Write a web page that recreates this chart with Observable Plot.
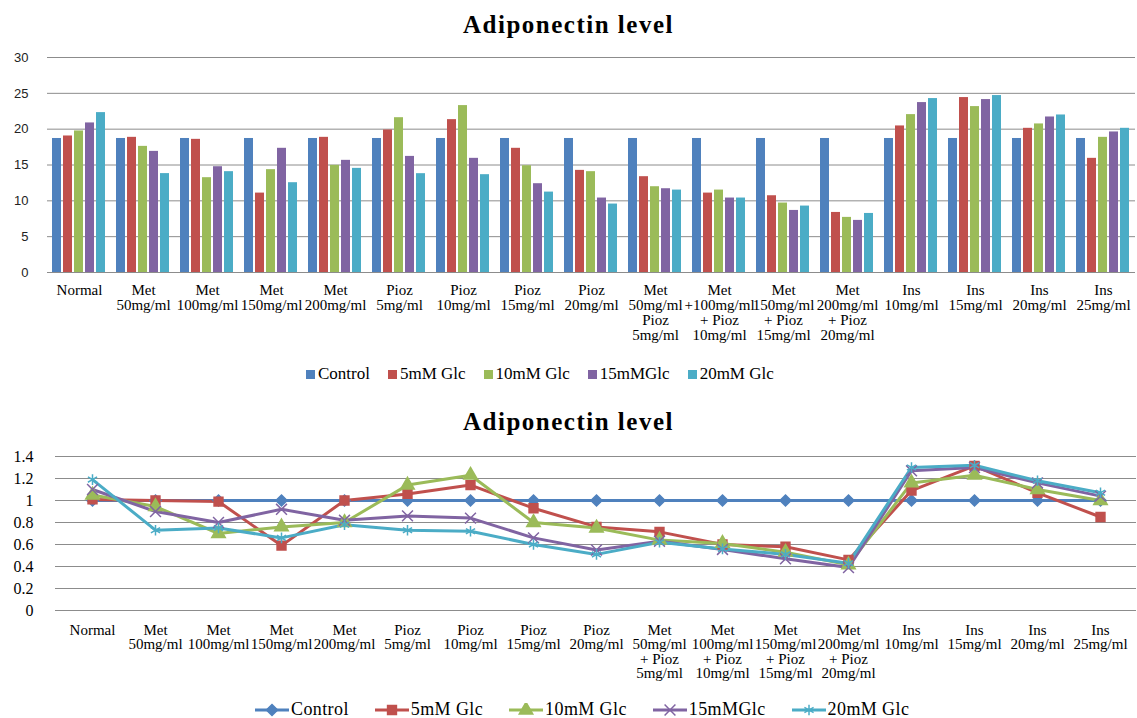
<!DOCTYPE html>
<html>
<head>
<meta charset="utf-8">
<script src="https://cdn.jsdelivr.net/npm/d3@7"></script>
<script src="https://cdn.jsdelivr.net/npm/@observablehq/plot@0.6"></script>
<style>
  body { margin: 0; background: #fff; }
  #page { position: relative; width: 1137px; height: 718px; overflow: hidden;
          font-family: "Liberation Serif", "Times New Roman", serif; color: #000; }
  .title { position: absolute; left: 0; width: 1137px; text-align: center; font-weight: bold;
           font-size: 25px; line-height: 30px; letter-spacing: 1.5px; }
  .chart { position: absolute; left: 0; }
  .legend { position: absolute; display: flex; align-items: center; white-space: nowrap; }
  .legend .item { display: flex; align-items: center; }
  .legend .sw { display: inline-block; width: 9px; height: 9px; margin-right: 3px; }
</style>
</head>
<body>
<div id="page">
  <div class="title" style="top:10px">Adiponectin level</div>
  <div class="chart" id="bars" style="top:45px"></div>
  <div class="legend" id="barLegend" style="top:364px;left:306px;height:20px;line-height:20px;font-size:17px;gap:18px"></div>
  <div class="title" style="top:407px">Adiponectin level</div>
  <div class="chart" id="lines" style="top:440px"></div>
  <div class="legend" id="lineLegend" style="top:701px;left:255px;height:17px;line-height:17px;font-size:18px;letter-spacing:0.4px;gap:26px"></div>
</div>
<script>
// Treatment groups (axis labels of each panel)
const barLabels = [
  "Normal", "Met\n50mg/ml", "Met\n100mg/ml", "Met\n150mg/ml", "Met\n200mg/ml",
  "Pioz\n5mg/ml", "Pioz\n10mg/ml", "Pioz\n15mg/ml", "Pioz\n20mg/ml",
  "Met\n50mg/ml\nPioz\n5mg/ml", "Met\n+100mg/ml\n+ Pioz\n10mg/ml",
  "Met\n150mg/ml\n+ Pioz\n15mg/ml", "Met\n200mg/ml\n+ Pioz\n20mg/ml",
  "Ins\n10mg/ml", "Ins\n15mg/ml", "Ins\n20mg/ml", "Ins\n25mg/ml"
];
const lineLabels = [
  "Normal", "Met\n50mg/ml", "Met\n100mg/ml", "Met\n150mg/ml", "Met\n200mg/ml",
  "Pioz\n5mg/ml", "Pioz\n10mg/ml", "Pioz\n15mg/ml", "Pioz\n20mg/ml",
  "Met\n50mg/ml\n+ Pioz\n5mg/ml", "Met\n100mg/ml\n+ Pioz\n10mg/ml",
  "Met\n150mg/ml\n+ Pioz\n15mg/ml", "Met\n200mg/ml\n+ Pioz\n20mg/ml",
  "Ins\n10mg/ml", "Ins\n15mg/ml", "Ins\n20mg/ml", "Ins\n25mg/ml"
];

const seriesNames = ["Control", "5mM Glc", "10mM Glc", "15mMGlc", "20mM Glc"];
const seriesColors = ["#4F81BD", "#C0504D", "#9BBB59", "#8064A2", "#4BACC6"];
const seriesSymbols = ["diamond2", "square", "triangle", "times", "asterisk"];

// Adiponectin level per group
const controlLevel = [18.7, 18.7, 18.7, 18.7, 18.7, 18.7, 18.7, 18.7, 18.7, 18.7, 18.7, 18.7, 18.7, 18.7, 18.7, 18.7, 18.7];
const glc5Level  = [19.05, 18.86, 18.58, 11.08, 18.86, 19.89, 21.33, 17.33, 14.25, 13.37, 11.08, 10.71, 8.38, 20.45, 24.41, 20.12, 15.93];
const glc10Level = [19.75, 17.6, 13.23, 14.35, 14.95, 21.6, 23.29, 14.9, 14.07, 11.97, 11.5, 9.69, 7.69, 22.03, 23.15, 20.73, 18.86];
const glc15Level = [20.87, 16.9, 14.76, 17.33, 15.65, 16.2, 15.93, 12.39, 10.39, 11.69, 10.39, 8.66, 7.27, 23.71, 24.13, 21.7, 19.61];
const glc20Level = [22.31, 13.8, 14.07, 12.53, 14.53, 13.79, 13.65, 11.22, 9.55, 11.5, 10.39, 9.27, 8.24, 24.27, 24.69, 21.98, 20.12];

// Level relative to control
const controlRatio = [1, 1, 1, 1, 1, 1, 1, 1, 1, 1, 1, 1, 1, 1, 1, 1, 1];
const glc5Ratio  = [1.01, 1.0, 0.99, 0.59, 1.0, 1.06, 1.14, 0.93, 0.76, 0.715, 0.6, 0.58, 0.46, 1.09, 1.315, 1.07, 0.85];
const glc10Ratio = [1.05, 0.945, 0.7, 0.76, 0.8, 1.14, 1.23, 0.8, 0.75, 0.64, 0.61, 0.53, 0.415, 1.16, 1.23, 1.1, 1.0];
const glc15Ratio = [1.1, 0.9, 0.8, 0.92, 0.82, 0.86, 0.84, 0.66, 0.55, 0.63, 0.555, 0.47, 0.39, 1.27, 1.3, 1.16, 1.04];
const glc20Ratio = [1.19, 0.73, 0.75, 0.66, 0.78, 0.73, 0.72, 0.6, 0.51, 0.62, 0.56, 0.51, 0.43, 1.3, 1.32, 1.18, 1.07];

const levelSeries = [controlLevel, glc5Level, glc10Level, glc15Level, glc20Level];
const ratioSeries = [controlRatio, glc5Ratio, glc10Ratio, glc15Ratio, glc20Ratio];

const barRows = [];
barLabels.forEach((cat, i) => seriesNames.forEach((s, j) =>
  barRows.push({cat, series: s, value: levelSeries[j][i]})));

const lineRows = [];
seriesNames.forEach((s, j) => lineLabels.forEach((cat, i) =>
  lineRows.push({cat, series: s, value: ratioSeries[j][i]})));

const gridColor = "#8c8c8c";
const serif = "Liberation Serif, Times New Roman, serif";

// Grouped bar chart
const barChart = Plot.plot({
  width: 1137, height: 300,
  marginTop: 12, marginBottom: 73, marginLeft: 45, marginRight: 1,
  style: {background: "transparent"},
  fx: {domain: barLabels, padding: 0},
  x: {domain: seriesNames, paddingInner: 0.15, paddingOuter: 0.3, axis: null},
  y: {domain: [0, 30]},
  color: {domain: seriesNames, range: seriesColors},
  marks: [
    Plot.ruleY([0, 5, 10, 15, 20, 25, 30], {stroke: gridColor, strokeWidth: 1}),
    Plot.barY(barRows, {fx: "cat", x: "series", y: "value", fill: "series"}),
    Plot.axisY({ticks: [0, 5, 10, 15, 20, 25, 30], tickSize: 0, tickPadding: 19, label: null,
      fontFamily: "Liberation Sans, Arial, sans-serif", fontSize: 13, fill: "#222"}),
    Plot.axisFx({anchor: "bottom", tickSize: 0, tickPadding: 12, label: null,
      fontFamily: serif, fontSize: 15, lineHeight: 1, fill: "#000"})
  ]
});
document.getElementById("bars").append(barChart);

// Relative level line chart
const lineChart = Plot.plot({
  width: 1137, height: 250,
  marginTop: 16, marginBottom: 80, marginLeft: 55, marginRight: 1,
  style: {background: "transparent"},
  x: {type: "point", domain: lineLabels, padding: 0.5},
  y: {domain: [0, 1.4]},
  color: {domain: seriesNames, range: seriesColors},
  symbol: {domain: seriesNames, range: seriesSymbols},
  marks: [
    Plot.ruleY([0, 0.2, 0.4, 0.6, 0.8, 1, 1.2, 1.4], {stroke: gridColor, strokeWidth: 1}),
    Plot.line(lineRows, {x: "cat", y: "value", z: "series", stroke: "series", strokeWidth: 3}),
    Plot.dot(lineRows, {x: "cat", y: "value", symbol: "series", fill: "series", stroke: "series",
      strokeWidth: 1.5, r: 5}),
    Plot.axisY({ticks: [0, 0.2, 0.4, 0.6, 0.8, 1, 1.2, 1.4], tickFormat: d => String(+d.toFixed(1)),
      tickSize: 0, tickPadding: 22, label: null,
      fontFamily: serif, fontSize: 16, fill: "#000"}),
    Plot.axisX({tickSize: 0, tickPadding: 14, label: null,
      fontFamily: serif, fontSize: 15, lineHeight: 0.97, fill: "#000"})
  ]
});
document.getElementById("lines").append(lineChart);

// Legends
const barLegend = document.getElementById("barLegend");
seriesNames.forEach((s, j) => {
  const item = document.createElement("span");
  item.className = "item";
  item.innerHTML = `<span class="sw" style="background:${seriesColors[j]}"></span>${s}`;
  barLegend.append(item);
});

const lineLegend = document.getElementById("lineLegend");
seriesNames.forEach((s, j) => {
  const item = document.createElement("span");
  item.className = "item";
  const svg = d3.create("svg").attr("width", 34).attr("height", 14).style("margin-right", "2px");
  svg.append("line").attr("x1", 0).attr("x2", 34).attr("y1", 7).attr("y2", 7)
    .attr("stroke", seriesColors[j]).attr("stroke-width", 3);
  const sym = {diamond2: d3.symbolDiamond2, square: d3.symbolSquare, triangle: d3.symbolTriangle,
               times: d3.symbolTimes, asterisk: d3.symbolAsterisk}[seriesSymbols[j]];
  svg.append("path").attr("transform", "translate(17,7)")
    .attr("d", d3.symbol(sym, Math.PI * 25)())
    .attr("fill", seriesColors[j]).attr("stroke", seriesColors[j]).attr("stroke-width", 1.5);
  item.append(svg.node());
  item.append(document.createTextNode(s));
  lineLegend.append(item);
});
</script>
</body>
</html>
